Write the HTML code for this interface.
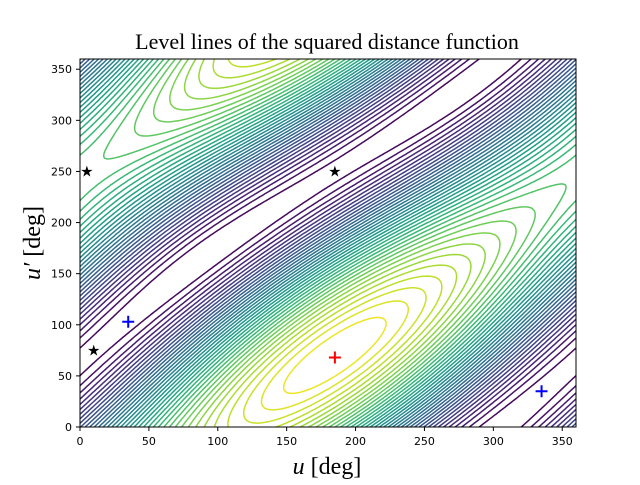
<!DOCTYPE html>
<html><head><meta charset="utf-8"><style>
body{margin:0;background:#fff;}
svg text{font-family:"DejaVu Sans",sans-serif;}
</style></head><body>
<svg id="chart" width="640" height="480" viewBox="0 0 640 480" xmlns="http://www.w3.org/2000/svg">
<rect width="640" height="480" fill="#fff"/>
<text x="327" y="49" text-anchor="middle" style="font-family:'Liberation Serif',serif;font-size:22px">Level lines of the squared distance function</text>
<defs><clipPath id="clip"><rect x="80" y="59" width="496" height="368"/></clipPath></defs>
<g id="contours" clip-path="url(#clip)"></g>
<g id="markers"></g>
<rect x="80" y="59" width="496" height="368" fill="none" stroke="#000" stroke-width="1"/>
<g id="ticks"></g>
<text x="327" y="474" text-anchor="middle" style="font-family:'Liberation Serif',serif;font-size:24px"><tspan font-style="italic">u</tspan> [deg]</text>
<text transform="translate(40,243) rotate(-90)" text-anchor="middle" style="font-family:'Liberation Serif',serif;font-size:24px"><tspan font-style="italic">u′</tspan> [deg]</text>
</svg>
<script>
const xTicks=[0,50,100,150,200,250,300,350];
const yTicks=[0,50,100,150,200,250,300,350];
const maxPoint=[185,70];
const ridgeOffset=[115];
const stars=[[5,250],[185,250],[10,75]];
const bluePlus=[[35,103],[335,35]];
const redPlus=[[185,68]];
const nLevels=[40];
const NS='http://www.w3.org/2000/svg';
const X=u=>80+u/360*496, Y=v=>427-v/360*368;
const d2r=Math.PI/180;
function f(u,v){const r=1+Math.cos((u-v-ridgeOffset[0])*d2r)+0.2*(2+Math.cos((u-maxPoint[0])*d2r)+Math.cos((v-maxPoint[1])*d2r));return Math.pow(Math.max(r,0),0.7);}
function viridis(t){const c=[[68,1,84],[72,40,120],[62,74,137],[49,104,142],[38,130,142],[31,158,137],[53,183,121],[110,206,88],[181,222,43],[253,231,37]];
 const s=t*(c.length-1),i=Math.min(Math.floor(s),c.length-2),r=s-i;return 'rgb('+c[i].map((a,k)=>Math.round(a+(c[i+1][k]-a)*r)).join(',')+')';}
const N=180,M=180,grid=[];let mn=1e9,mx=-1e9;
for(let j=0;j<=M;j++){grid[j]=[];for(let i=0;i<=N;i++){const v=f(i*360/N,j*360/M);grid[j][i]=v;mn=Math.min(mn,v);mx=Math.max(mx,v);}}
const g=document.getElementById('contours');
const L=nLevels[0];
for(let k=1;k<L;k++){
 const lev=mn+(mx-mn)*k/L;let d='';
 for(let j=0;j<M;j++)for(let i=0;i<N;i++){
  const c=[[i,j,grid[j][i]],[i+1,j,grid[j][i+1]],[i+1,j+1,grid[j+1][i+1]],[i,j+1,grid[j+1][i]]];
  const pts=[];
  for(let e=0;e<4;e++){const a=c[e],b=c[(e+1)%4];
   if((a[2]<lev)!==(b[2]<lev)){const t=(lev-a[2])/(b[2]-a[2]);pts.push([a[0]+(b[0]-a[0])*t,a[1]+(b[1]-a[1])*t]);}}
  for(let p=0;p+1<pts.length;p+=2){
   const p1=pts[p],p2=pts[p+1];
   d+='M'+X(p1[0]*360/N).toFixed(1)+' '+Y(p1[1]*360/M).toFixed(1)+'L'+X(p2[0]*360/N).toFixed(1)+' '+Y(p2[1]*360/M).toFixed(1);}
 }
 const path=document.createElementNS(NS,'path');
 path.setAttribute('d',d);path.setAttribute('fill','none');path.setAttribute('stroke',viridis(k/L));path.setAttribute('stroke-width','1.5');path.setAttribute('stroke-linecap','round');
 
 
 g.appendChild(path);
}
const mk=document.getElementById('markers');
stars.forEach(s=>{const t=document.createElementNS(NS,'text');t.setAttribute('x',X(s[0]));t.setAttribute('y',Y(s[1])+5);t.setAttribute('text-anchor','middle');t.setAttribute('font-size','15');t.textContent='★';
 
 
 mk.appendChild(t);});
function plus(p,col){const x=X(p[0]),y=Y(p[1]);const pa=document.createElementNS(NS,'path');
 pa.setAttribute('d','M'+(x-6)+' '+y+'H'+(x+6)+'M'+x+' '+(y-6)+'V'+(y+6));pa.setAttribute('stroke',col);pa.setAttribute('stroke-width','2');
 
 
 mk.appendChild(pa);}
bluePlus.forEach(p=>plus(p,'#0000ff'));redPlus.forEach(p=>plus(p,'#ff0000'));
const tg=document.getElementById('ticks');
xTicks.forEach(v=>{const l=document.createElementNS(NS,'line');l.setAttribute('x1',X(v));l.setAttribute('x2',X(v));l.setAttribute('y1',427);l.setAttribute('y2',431);l.setAttribute('stroke','#000');
 tg.appendChild(l);
 const t=document.createElementNS(NS,'text');t.setAttribute('x',X(v));t.setAttribute('y',445);t.setAttribute('text-anchor','middle');t.setAttribute('font-size','11');t.textContent=v;
 tg.appendChild(t);});
yTicks.forEach(v=>{const l=document.createElementNS(NS,'line');l.setAttribute('x1',76);l.setAttribute('x2',80);l.setAttribute('y1',Y(v));l.setAttribute('y2',Y(v));l.setAttribute('stroke','#000');
 tg.appendChild(l);
 const t=document.createElementNS(NS,'text');t.setAttribute('x',72);t.setAttribute('y',Y(v)+4);t.setAttribute('text-anchor','end');t.setAttribute('font-size','11');t.textContent=v;
 tg.appendChild(t);});
</script>
</body></html>
